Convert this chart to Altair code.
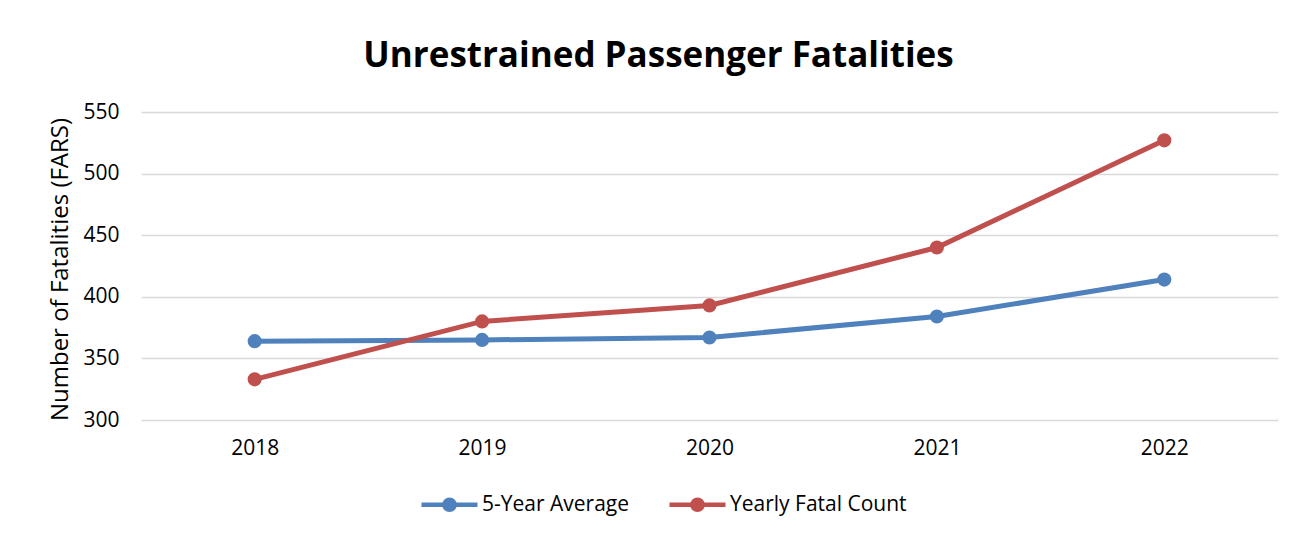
import altair as alt
import pandas as pd

years = ["2018", "2019", "2020", "2021", "2022"]
five_year_avg = [364, 365, 367, 384, 414]
yearly_count = [333, 380, 393, 440, 527]
series_names = ["5-Year Average", "Yearly Fatal Count"]
series_colors = ["#4F81BD", "#C0504D"]
y_ticks = [300, 350, 400, 450, 500, 550]

rows = []
for y, v in zip(years, five_year_avg):
    rows.append({"Year": y, "Value": v, "Series": series_names[0]})
for y, v in zip(years, yearly_count):
    rows.append({"Year": y, "Value": v, "Series": series_names[1]})
df = pd.DataFrame(rows)

FONT = "Open Sans"

legend_path = (
    "M-1,0H1"
    "M0.18,0A0.18,0.18 0 1,1 -0.18,0A0.18,0.18 0 1,1 0.18,0"
    "M0.07,0A0.07,0.07 0 1,1 -0.07,0A0.07,0.07 0 1,1 0.07,0"
)

x_scale = alt.Scale(type="point", padding=0.5)
y_scale = alt.Scale(domain=[300, 550], nice=False, zero=False)
c_scale = alt.Scale(domain=series_names, range=series_colors)

x_axis = alt.Axis(
    title=None, labelAngle=0, ticks=False, domain=False, grid=False,
    labelFontSize=21, labelFont=FONT, labelColor="#000000", labelPadding=17,
)
y_axis = alt.Axis(
    values=y_ticks, title="Number of Fatalities (FARS)", ticks=False, domain=False,
    grid=True, gridColor="#D9D9D9", gridWidth=1.5,
    labelFontSize=21, labelFont=FONT, labelColor="#000000", labelPadding=22,
    titleFontSize=24, titleFont=FONT, titleColor="#000000", titleFontWeight="normal",
    titleX=-81, titleY=157, titleAngle=270, titleAlign="center", titleBaseline="middle",
)
legend = alt.Legend(
    title=None, orient="none", direction="horizontal",
    legendX=278, legendY=362,
    symbolType=legend_path, symbolSize=3136, symbolStrokeWidth=4.5,
    labelFontSize=21, labelFont=FONT, labelColor="#000000", labelLimit=400,
    labelOffset=2, columnPadding=30,
)

enc = dict(
    x=alt.X("Year:O", scale=x_scale, axis=x_axis),
    y=alt.Y("Value:Q", scale=y_scale, axis=y_axis),
    color=alt.Color("Series:N", scale=c_scale, legend=legend),
)

line = alt.Chart(df).mark_line(strokeWidth=5).encode(**enc)
points = alt.Chart(df).mark_point(filled=True, size=200, opacity=1, shape="circle").encode(**enc)

chart = (
    alt.layer(line, points)
    .properties(
        width=1137,
        height=308,
        autosize=alt.AutoSizeParams(type="none"),
        padding={"left": 133, "top": 104, "right": 15, "bottom": 110},
        view=alt.ViewBackground(strokeOpacity=0, strokeWidth=0),
        title=alt.TitleParams(
            "Unrestrained Passenger Fatalities", font=FONT, fontSize=35, fontWeight="bold",
            color="#000000", anchor="middle", dx=-51, dy=3, offset=2, baseline="alphabetic",
        ),
    )
    .configure_view(strokeWidth=0, strokeOpacity=0)
    .configure(background="white")
)

chart.save("out.html", embed_options={"renderer": "svg", "actions": False})
